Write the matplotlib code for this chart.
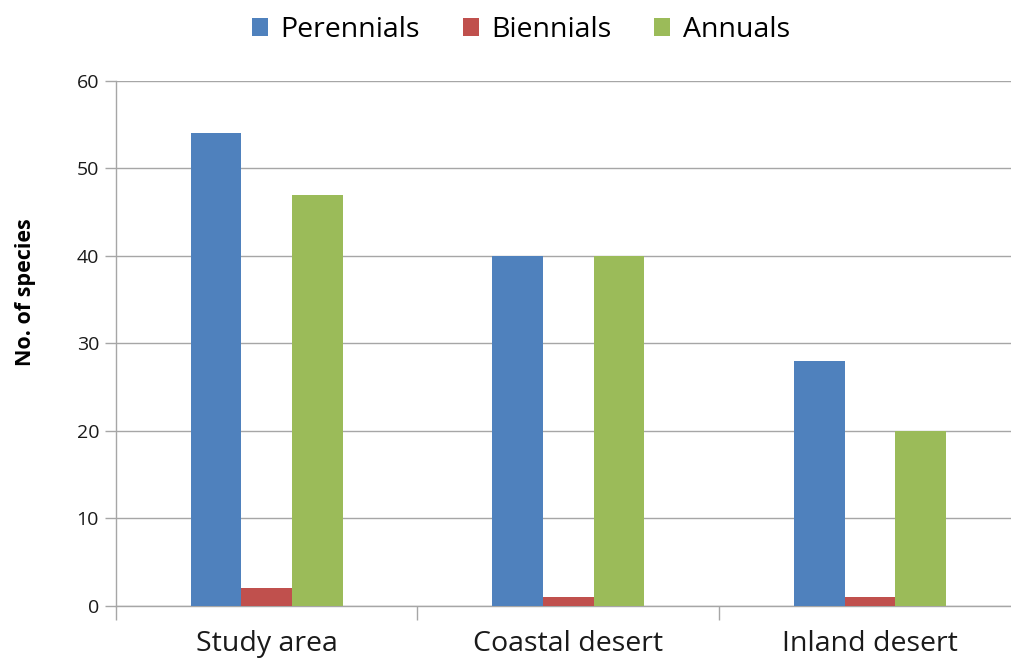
import numpy as np
import matplotlib.pyplot as plt

sites = ["Study area", "Coastal desert", "Inland desert"]
series = ["Perennials", "Biennials", "Annuals"]
perennials = [54, 40, 28]
biennials = [2, 1, 1]
annuals = [47, 40, 20]
y_ticks = [0, 10, 20, 30, 40, 50, 60]

colors = ["#4F81BD", "#C0504D", "#9BBB59"]
grid_col = "#A6A6A6"

plt.rcParams["font.family"] = ["Open Sans", "DejaVu Sans"]

fig = plt.figure(figsize=(10.11, 6.59), dpi=100)
W, H = 1011, 659
ax = fig.add_axes([115.7 / W, 1 - 606 / H, (1021 - 115.7) / W, (606 - 80.7) / H])

x = np.arange(len(sites))
width = 0.168
for i, (name, vals) in enumerate(zip(series, [perennials, biennials, annuals])):
    ax.bar(x + (i - 1) * width, vals, width, color=colors[i], label=name, zorder=3)

ax.set_xlim(-0.5, 2.5)
ax.set_ylim(0, 60)
ax.set_yticks(y_ticks)
ax.yaxis.grid(True, color=grid_col, linewidth=1.0, zorder=0)

for s in ["top", "right"]:
    ax.spines[s].set_visible(False)
for s in ["left", "bottom"]:
    ax.spines[s].set_color(grid_col)
    ax.spines[s].set_linewidth(1.0)

ax.set_xticks(x)
ax.set_xticklabels(sites, fontsize=20.5, color="#1a1a1a")
ax.set_xticks([-0.5, 0.5, 1.5, 2.5], minor=True)
ax.tick_params(axis="x", which="major", length=0, pad=17)
ax.tick_params(axis="x", which="minor", length=10, color=grid_col, width=1.0)
ax.tick_params(axis="y", length=8, color=grid_col, width=1.0, labelsize=14,
               labelcolor="#1a1a1a", pad=4)

ax.set_ylabel("No. of species", fontsize=15.5, fontweight="bold")
ax.yaxis.set_label_coords(-80 / (1021 - 115.7), (606 - 292) / (606 - 80.7))

fig.legend(loc="center", bbox_to_anchor=(521 / W, 1 - 30 / H),
           ncol=3, frameon=False, fontsize=20.5, handlelength=0.56, handleheight=0.56,
           handletextpad=0.45, columnspacing=1.5)

fig.savefig("out.png", dpi=100)
